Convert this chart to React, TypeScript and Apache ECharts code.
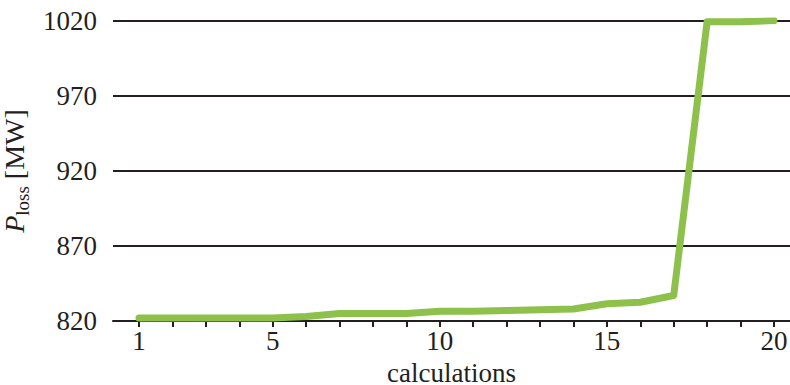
import React, { useEffect, useRef } from "react";
import * as echarts from "echarts";

const calculations = [1, 2, 3, 4, 5, 6, 7, 8, 9, 10, 11, 12, 13, 14, 15, 16, 17, 18, 19, 20];
const pLoss = [822, 822, 822, 822, 822, 823, 825, 825, 825, 826.5, 826.5, 827, 827.5, 828, 831.5, 832.5, 837, 1019.5, 1019.5, 1020.3];
const xLabelValues = [1, 5, 10, 15, 20];
const yTickValues = [820, 870, 920, 970, 1020];

const FONT = "'Liberation Serif', 'Times New Roman', serif";
const INK = "#231f20";

export default function App() {
  const ref = useRef<HTMLDivElement>(null);
  useEffect(() => {
    if (!ref.current) return;
    const chart = echarts.init(ref.current, undefined, { renderer: "svg" });
    chart.setOption({
      animation: false,
      backgroundColor: "#ffffff",
      grid: { left: 113, right: 0, top: 21, bottom: 64, containLabel: false, outerBoundsMode: "none" },
      xAxis: {
        type: "value",
        min: 0.222,
        max: 20.48,
        name: "calculations",
        nameLocation: "middle",
        nameGap: 31,
        nameTextStyle: { fontFamily: FONT, fontSize: 27, color: INK, lineHeight: 28 },
        axisLine: { show: true, lineStyle: { color: INK, width: 2 } },
        axisTick: { show: true, length: 6, lineStyle: { color: INK, width: 2 }, customValues: calculations },
        axisLabel: {
          show: true,
          customValues: xLabelValues,
          margin: 6,
          fontFamily: FONT,
          fontSize: 27,
          color: INK,
          formatter: (v: number) => String(v),
        },
        splitLine: { show: false },
      },
      yAxis: {
        type: "value",
        min: 820,
        max: 1020,
        name: "{p|P}{sub|loss}{n| [MW]}",
        nameLocation: "middle",
        nameRotate: 90,
        nameGap: 75,
        nameTextStyle: {
          fontFamily: FONT,
          color: INK,
          rich: {
            p: { fontFamily: FONT, fontSize: 28, fontStyle: "italic", color: INK, verticalAlign: "bottom", lineHeight: 26 },
            sub: { fontFamily: FONT, fontSize: 19, color: INK, verticalAlign: "bottom", lineHeight: 26, padding: [0, 0, -4, 0] },
            n: { fontFamily: FONT, fontSize: 28, color: INK, verticalAlign: "bottom", lineHeight: 26 },
          },
        },
        axisLine: { show: false },
        axisTick: { show: false },
        splitLine: { show: false },
        axisLabel: {
          customValues: yTickValues,
          margin: 16,
          fontFamily: FONT,
          fontSize: 27,
          color: INK,
          formatter: (v: number) => String(v),
        },
      },
      series: [
        {
          type: "line",
          data: calculations.map((c, i) => [c, pLoss[i]]),
          symbol: "none",
          lineStyle: { color: "#8dc14b", width: 7, cap: "round", join: "round" },
          z: 3,
          markLine: {
            silent: true,
            symbol: "none",
            label: { show: false },
            lineStyle: { color: INK, width: 2, type: "solid" },
            data: yTickValues.slice(1).map((v) => ({ yAxis: v })),
            z: 1,
          },
        },
      ],
    });
    return () => chart.dispose();
  }, []);
  return (
    <div
      ref={ref}
      style={{ position: "fixed", left: 0, top: 0, width: 790, height: 385, background: "#fff" }}
    />
  );
}
